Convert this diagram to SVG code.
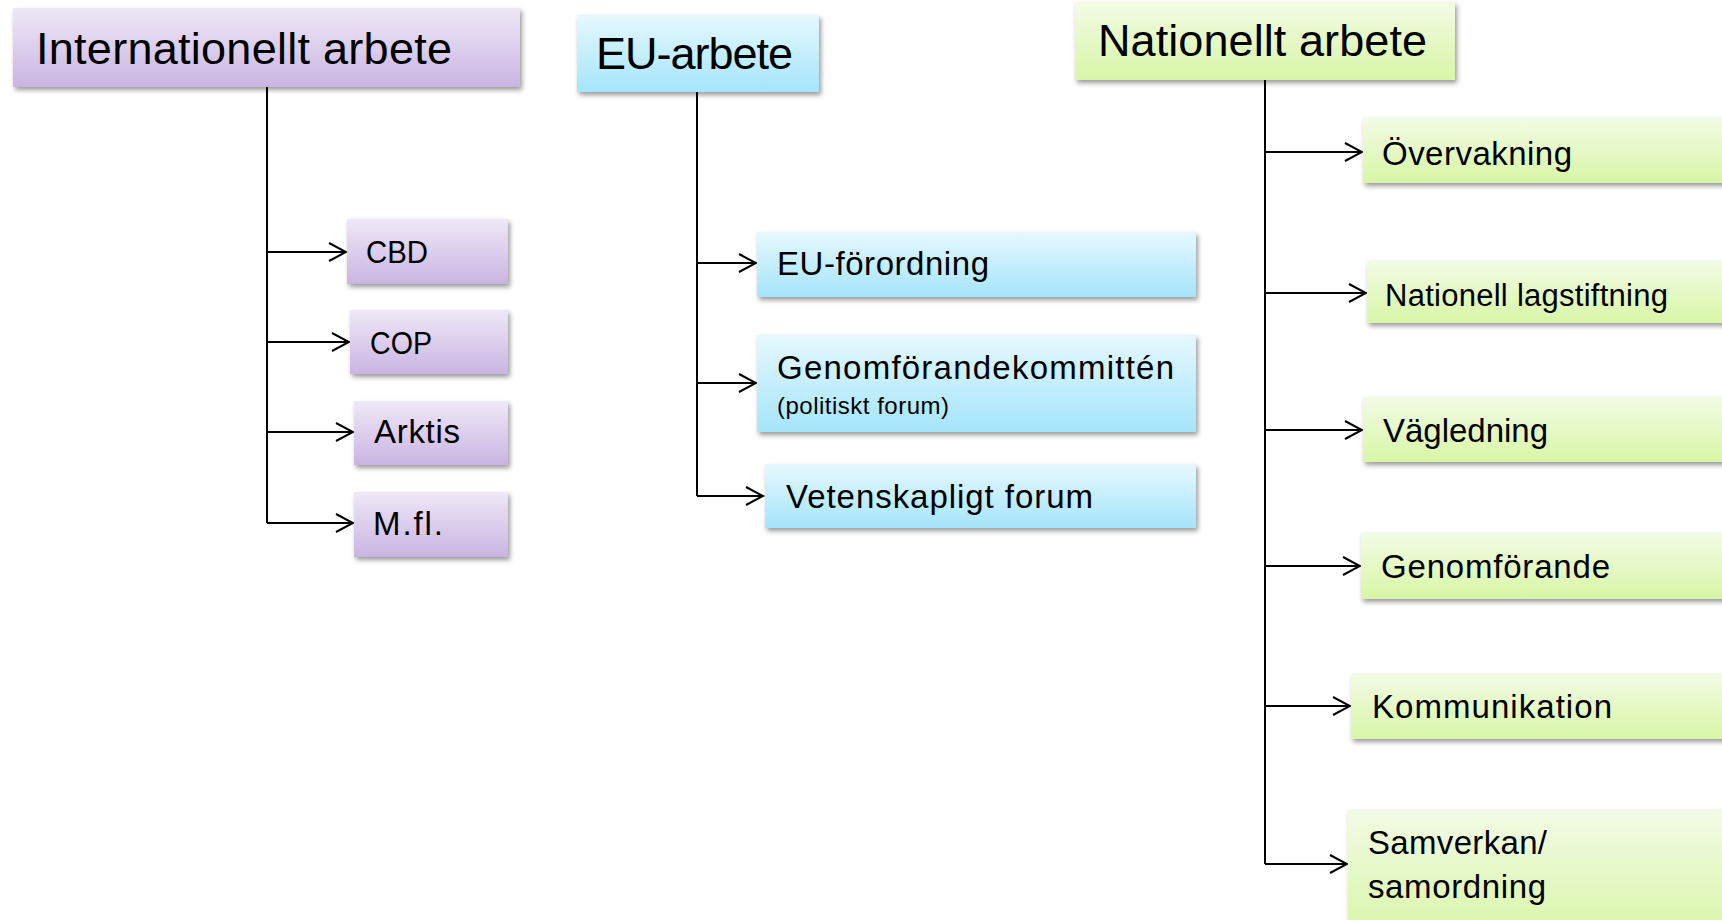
<svg xmlns="http://www.w3.org/2000/svg" width="1722" height="920" viewBox="0 0 1722 920">
<style>
text{font-family:"Liberation Sans",Arial,sans-serif;fill:#000;}
.head{font-size:45px;}
.item{font-size:33px;}
.small{font-size:24px;}
.conn{stroke:#000;stroke-width:2;fill:none;}
.box{filter:url(#sh);}
</style>
<defs>
<linearGradient id="gp" x1="0" y1="0" x2="0" y2="1"><stop offset="0" stop-color="#efe8f7"/><stop offset="1" stop-color="#c9b5e2"/></linearGradient>
<linearGradient id="gb" x1="0" y1="0" x2="0" y2="1"><stop offset="0" stop-color="#e6f8fe"/><stop offset="1" stop-color="#a5e5fb"/></linearGradient>
<linearGradient id="gg" x1="0" y1="0" x2="0" y2="1"><stop offset="0" stop-color="#f3fbe6"/><stop offset="1" stop-color="#d8f6a6"/></linearGradient>
<filter id="sh" x="-5%" y="-10%" width="115%" height="140%"><feDropShadow dx="2" dy="3" stdDeviation="2.5" flood-color="#000" flood-opacity="0.4"/></filter>
<marker id="arr" viewBox="-19 -11 21 22" markerWidth="21" markerHeight="22" refX="0" refY="0" orient="auto" markerUnits="userSpaceOnUse"><path d="M-17,-9 L0,0 L-17,9" fill="none" stroke="#000" stroke-width="2"/></marker>
</defs>

<g id="connectors">
<path class="conn" d="M267,87 V523"/>
<path class="conn" d="M267,252 H346" marker-end="url(#arr)"/>
<path class="conn" d="M267,342 H349" marker-end="url(#arr)"/>
<path class="conn" d="M267,432 H353" marker-end="url(#arr)"/>
<path class="conn" d="M267,523 H353" marker-end="url(#arr)"/>
<path class="conn" d="M697,92 V496"/>
<path class="conn" d="M697,263 H756" marker-end="url(#arr)"/>
<path class="conn" d="M697,383 H756" marker-end="url(#arr)"/>
<path class="conn" d="M697,496 H763" marker-end="url(#arr)"/>
<path class="conn" d="M1265,80 V864"/>
<path class="conn" d="M1265,152 H1362" marker-end="url(#arr)"/>
<path class="conn" d="M1265,293 H1366" marker-end="url(#arr)"/>
<path class="conn" d="M1265,430 H1362" marker-end="url(#arr)"/>
<path class="conn" d="M1265,566 H1360" marker-end="url(#arr)"/>
<path class="conn" d="M1265,706 H1350" marker-end="url(#arr)"/>
<path class="conn" d="M1265,864 H1347" marker-end="url(#arr)"/>
</g>

<g id="internationellt">
<rect class="box" x="13" y="8" width="507" height="79" fill="url(#gp)"/>
<text class="head" x="36" y="64" textLength="416">Internationellt arbete</text>
</g>
<g id="cbd">
<rect class="box" x="347" y="219" width="161" height="65" fill="url(#gp)"/>
<text class="item" x="366" y="263" style="font-size:32px" textLength="62" lengthAdjust="spacingAndGlyphs">CBD</text>
</g>
<g id="cop">
<rect class="box" x="350" y="310" width="158" height="64" fill="url(#gp)"/>
<text class="item" x="370" y="354" style="font-size:32px" textLength="62" lengthAdjust="spacingAndGlyphs">COP</text>
</g>
<g id="arktis">
<rect class="box" x="354" y="401" width="154" height="64" fill="url(#gp)"/>
<text class="item" x="374" y="443" textLength="86">Arktis</text>
</g>
<g id="mfl">
<rect class="box" x="354" y="492" width="154" height="65" fill="url(#gp)"/>
<text class="item" x="373" y="535" textLength="70">M.fl.</text>
</g>

<g id="eu-arbete">
<rect class="box" x="577" y="15" width="242" height="77" fill="url(#gb)"/>
<text class="head" x="596" y="69" textLength="197">EU-arbete</text>
</g>
<g id="eu-forordning">
<rect class="box" x="757" y="232" width="439" height="65" fill="url(#gb)"/>
<text class="item" x="777" y="275" textLength="212">EU-förordning</text>
</g>
<g id="genomforandekommitten">
<rect class="box" x="757" y="335" width="439" height="97" fill="url(#gb)"/>
<text class="item" x="777" y="379" textLength="397">Genomförandekommittén</text>
<text class="small" x="777" y="414" textLength="172">(politiskt forum)</text>
</g>
<g id="vetenskapligt">
<rect class="box" x="765" y="464" width="431" height="64" fill="url(#gb)"/>
<text class="item" x="786" y="508" textLength="307">Vetenskapligt forum</text>
</g>

<g id="nationellt">
<rect class="box" x="1075" y="2" width="380" height="78" fill="url(#gg)"/>
<text class="head" x="1098" y="56" textLength="329">Nationellt arbete</text>
</g>
<g id="overvakning">
<rect class="box" x="1363" y="118" width="370" height="65" fill="url(#gg)"/>
<text class="item" x="1382" y="165" textLength="190">Övervakning</text>
</g>
<g id="lagstiftning">
<rect class="box" x="1367" y="261" width="366" height="62" fill="url(#gg)"/>
<text class="item" x="1385" y="306" style="font-size:31px" textLength="283">Nationell lagstiftning</text>
</g>
<g id="vagledning">
<rect class="box" x="1363" y="397" width="370" height="65" fill="url(#gg)"/>
<text class="item" x="1383" y="442" textLength="165">Vägledning</text>
</g>
<g id="genomforande">
<rect class="box" x="1361" y="533" width="372" height="66" fill="url(#gg)"/>
<text class="item" x="1381" y="578" textLength="229">Genomförande</text>
</g>
<g id="kommunikation">
<rect class="box" x="1351" y="674" width="382" height="65" fill="url(#gg)"/>
<text class="item" x="1372" y="718" textLength="240">Kommunikation</text>
</g>
<g id="samverkan">
<rect class="box" x="1348" y="810" width="385" height="130" fill="url(#gg)"/>
<text class="item" x="1368" y="854" textLength="179">Samverkan/</text>
<text class="item" x="1368" y="898" textLength="178">samordning</text>
</g>
</svg>
